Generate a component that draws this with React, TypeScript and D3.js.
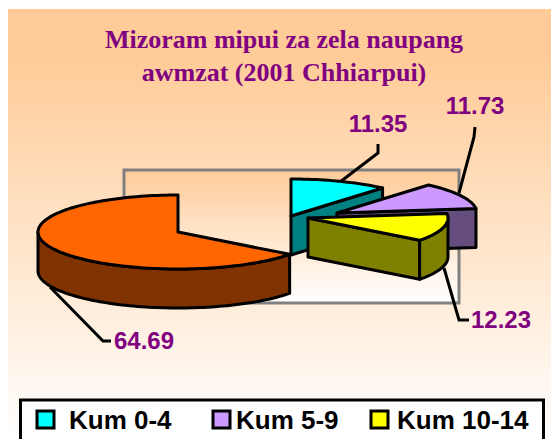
import * as d3 from "d3";

const categories = ["Kum 0-4", "Kum 5-9", "Kum 10-14", "Adang"];
const values = [11.35, 11.73, 12.23, 64.69];
const topColors = ["#00ffff", "#cc99ff", "#ffff00", "#ff6600"];
const wallColors = ["#008080", "#664d80", "#808000", "#803300"];
const legendCategories = categories.slice(0, 3);
const titleLines = ["Mizoram mipui za zela naupang", "awmzat (2001 Chhiarpui)"];

// where each exploded slice has its apex, in page pixels
const apexes = [
    [291, 216],
    [337, 213],
    [308, 218],
    [178, 232],
];
const leaders = [
    [[340, 182], [378, 153], [378, 144]],
    [[459, 193], [474, 137], [475, 127]],
    [[444, 268], [459, 320], [469, 320]],
    [[50, 287], [103, 341], [111, 341]],
];
const labelPos = [
    [378, 132],
    [475, 114],
    [501, 328],
    [144, 349],
];
const legendX = [
    [37, 69],
    [213, 236],
    [371, 397],
];

const rx = 140;
const ry = 37;
const depth = 39;
const drawOrder = [0, 3, 1, 2];

const pie = d3.pie<number>().sort(null).startAngle(0).endAngle(2 * Math.PI);
const line = d3.line();

function rim(cx: number, cy: number, a0: number, a1: number): [number, number][] {
    const n = Math.max(2, Math.ceil(Math.abs(a1 - a0) / 0.03));
    const angle = d3.scaleLinear().domain([0, n]).range([a0, a1]);
    return d3.range(n + 1).map((i) => {
        const a = angle(i);
        return [cx + rx * Math.sin(a), cy - ry * Math.cos(a)] as [number, number];
    });
}

function Slice({ index, a0, a1 }: { index: number; a0: number; a1: number }) {
    const [cx, cy] = apexes[index];
    const down = (p: [number, number]): [number, number] => [p[0], p[1] + depth];
    const walls: string[] = [];

    // cut face toward the viewer, the big slice does not show one
    if (a1 < Math.PI) {
        const end = rim(cx, cy, a1, a1)[0];
        walls.push(line([[cx, cy], end, down(end), [cx, cy + depth]])! + "Z");
    }
    // outer rim, only the part that faces the viewer
    const from = Math.max(a0, Math.PI / 2);
    const to = Math.min(a1, (3 * Math.PI) / 2);
    if (to > from) {
        const edge = rim(cx, cy, from, to);
        walls.push(line([...edge, ...edge.slice().reverse().map(down)])! + "Z");
    }

    const top = line([[cx, cy], ...rim(cx, cy, a0, a1)])! + "Z";
    return (
        <g stroke="#000" strokeWidth={3} strokeLinejoin="round">
            {walls.map((d, i) => (
                <path key={i} d={d} fill={wallColors[index]} />
            ))}
            <path d={top} fill={topColors[index]} />
        </g>
    );
}

export default function App() {
    const arcs = pie(values);
    return (
        <svg
            width={551}
            height={439}
            style={{ position: "absolute", left: 0, top: 0, background: "#fff" }}
        >
            <defs>
                <linearGradient id="bg" x1="0" y1="0" x2="0" y2="1">
                    <stop offset="0" stopColor="#ffcc99" />
                    <stop offset="0.12" stopColor="#ffcc99" />
                    <stop offset="1" stopColor="#ffffff" />
                </linearGradient>
                <linearGradient id="plot" x1="0" y1="0" x2="0" y2="1">
                    <stop offset="0" stopColor="#ffcc99" />
                    <stop offset="1" stopColor="#ffffff" />
                </linearGradient>
            </defs>
            <rect x={8} y={9} width={543} height={430} fill="url(#bg)" />
            <rect x={124} y={170} width={335} height={133} fill="url(#plot)" stroke="#808080" strokeWidth={3} />

            {titleLines.map((t, i) => (
                <text
                    key={t}
                    x={284}
                    y={48 + i * 33}
                    textAnchor="middle"
                    fontFamily="'Liberation Serif'"
                    fontWeight="bold"
                    fontSize={26}
                    fill="#800080"
                >
                    {t}
                </text>
            ))}

            {leaders.map((pts, i) => (
                <path key={i} d={line(pts as [number, number][])!} fill="none" stroke="#000" strokeWidth={3} />
            ))}

            {drawOrder.map((i) => (
                <Slice key={i} index={i} a0={arcs[i].startAngle} a1={arcs[i].endAngle} />
            ))}

            {values.map((v, i) => (
                <text
                    key={v}
                    x={labelPos[i][0]}
                    y={labelPos[i][1]}
                    textAnchor="middle"
                    fontFamily="'Liberation Sans'"
                    fontWeight="bold"
                    fontSize={24}
                    fill="#800080"
                >
                    {d3.format(".2f")(v)}
                </text>
            ))}

            <rect x={20.5} y={400} width={523} height={60} fill="#fff" stroke="#000" strokeWidth={3} />
            {legendCategories.map((c, i) => (
                <g key={c}>
                    <rect x={legendX[i][0]} y={411} width={17} height={17} fill={topColors[i]} stroke="#000" strokeWidth={3} />
                    <text
                        x={legendX[i][1]}
                        y={429}
                        fontFamily="'Liberation Sans'"
                        fontWeight="bold"
                        fontSize={26}
                        fill="#000"
                    >
                        {c}
                    </text>
                </g>
            ))}
        </svg>
    );
}
